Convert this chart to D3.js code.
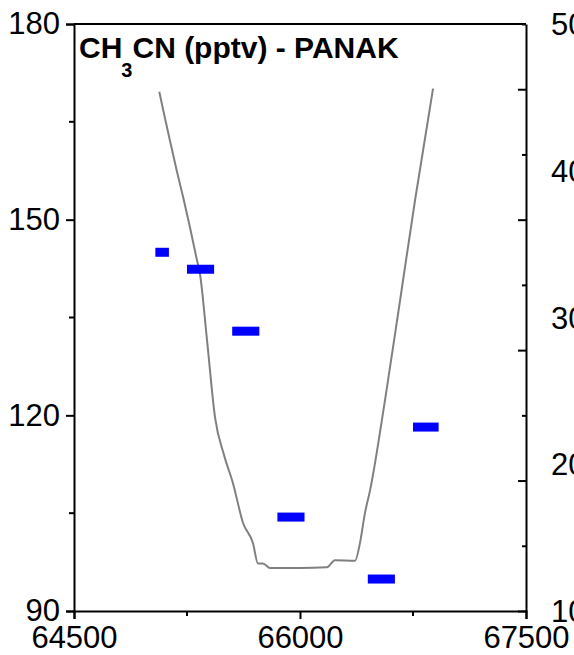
<html>
  <head>
    <meta charset="utf-8">
    <title>CH3CN - PANAK</title>
    <style>
      body { margin: 0; background: #fff; }
      text { font-family: Arial, "Liberation Sans", sans-serif; }
    </style>
  </head>
  <body>
    <script src="https://cdn.jsdelivr.net/npm/d3@7"></script>
    <script>
      var width = 574, height = 655;
      var margin = {top: 24, right: 48, bottom: 44, left: 74};

      // CH3CN averages (bars: start / end time, value in pptv)
      var barStart = [65040, 65250, 65550, 65850, 66450, 66750];
      var barEnd   = [65130, 65430, 65730, 66030, 66630, 66920];
      var ch3cn    = [145.0, 142.4, 132.9, 104.4, 94.9, 118.2];

      // gray flight track (in left-axis units)
      var lineTime  = [65066, 65093, 65137, 65182, 65225, 65270, 65314, 65336, 65383, 65436, 65496, 65555, 65622, 65688, 65721, 65754, 65801, 65867, 66000, 66179, 66232, 66365, 66398, 66431, 66465, 66564, 66664, 66763, 66883];
      var lineValue = [169.6, 166.7, 162.1, 157.5, 153.4, 148.8, 144.0, 141.7, 131.5, 119.7, 113.9, 109.6, 103.5, 100.4, 97.3, 97.3, 96.6, 96.6, 96.6, 96.7, 97.8, 97.7, 100.4, 105.0, 108.5, 122.3, 137.6, 152.9, 170.1];

      var xTicks = [64500, 66000, 67500];
      var xMinor = [65250, 66750];
      var yTicks = [90, 120, 150, 180];
      var yMinor = [105, 135, 165];
      var rightTicks = [90, 100, 110, 120, 130, 140, 150, 160, 170, 180];
      var rightLabels = [100, 200, 300, 400, 500];

      var svg = d3.select("body").append("svg")
                  .attr("width", width)
                  .attr("height", height);

      var x = d3.scaleLinear().domain([64500, 67500]).range([margin.left, width - margin.right]);
      var y = d3.scaleLinear().domain([90, 180]).range([height - margin.bottom, margin.top]);
      var y2 = d3.scaleLinear().domain([100, 500]).range([height - margin.bottom, margin.top]);

      // top border
      svg.append("line")
         .attr("x1", x(64500)).attr("x2", x(67500))
         .attr("y1", y(180)).attr("y2", y(180))
         .attr("stroke", "#000").attr("stroke-width", 2);

      // left axis
      var gl = svg.append("g").attr("transform", "translate(" + margin.left + ",0)");
      gl.call(d3.axisLeft(y).tickValues(yTicks).tickSize(8).tickPadding(6).tickFormat(d3.format("d")));
      yMinor.forEach(function(v){
        gl.append("line").attr("x1", -5).attr("x2", 0).attr("y1", y(v)).attr("y2", y(v))
          .attr("stroke", "#000").attr("stroke-width", 2);
      });

      // bottom axis
      var gb = svg.append("g").attr("transform", "translate(0," + (height - margin.bottom) + ")");
      gb.call(d3.axisBottom(x).tickValues(xTicks).tickSize(8).tickPadding(7).tickFormat(d3.format("d")));
      xMinor.forEach(function(v){
        gb.append("line").attr("x1", x(v)).attr("x2", x(v)).attr("y1", 0).attr("y2", 5)
          .attr("stroke", "#000").attr("stroke-width", 2);
      });

      // right axis: inward ticks, alternating lengths
      var gr = svg.append("g").attr("transform", "translate(" + (width - margin.right) + ",0)");
      gr.call(d3.axisLeft(y).tickValues(rightTicks).tickSize(0).tickFormat(""));
      gr.selectAll(".tick line")
        .attr("x2", (d, i) => i % 2 == 0 ? -8 : -4);

      // cut-off labels of the neighbouring panel
      svg.selectAll(".rlab")
         .data(rightLabels)
         .enter()
         .append("text")
         .attr("class", "rlab")
         .attr("x", 551)
         .attr("y", d => y2(d))
         .attr("dy", "0.36em")
         .attr("font-size", 31)
         .text(d => d);

      svg.selectAll(".domain").attr("stroke", "#000").attr("stroke-width", 2);
      svg.selectAll(".tick line").attr("stroke", "#000").attr("stroke-width", 2);
      svg.selectAll(".tick text").attr("font-size", 31).attr("fill", "#000")
         .attr("font-family", "Arial, 'Liberation Sans', sans-serif");

      // gray line
      var line = d3.line().curve(d3.curveMonotoneX).x((d, i) => x(lineTime[i])).y(d => y(d));
      svg.append("path")
         .attr("d", line(lineValue))
         .attr("fill", "none")
         .attr("stroke", "#808080")
         .attr("stroke-width", 2);

      // blue bars
      svg.selectAll(".bar")
         .data(ch3cn)
         .enter()
         .append("rect")
         .attr("class", "bar")
         .attr("x", (d, i) => x(barStart[i]))
         .attr("width", (d, i) => x(barEnd[i]) - x(barStart[i]))
         .attr("y", d => y(d) - 4.5)
         .attr("height", 9)
         .attr("fill", "#0000ff");

      // title
      var t = svg.append("text")
                 .attr("x", 79)
                 .attr("y", 58)
                 .attr("font-size", 30)
                 .attr("font-weight", "bold");
      t.append("tspan").text("CH");
      t.append("tspan").attr("font-size", 20).attr("dx", -1).attr("dy", 19).text("3");
      t.append("tspan").attr("dy", -19).text("CN (pptv) - PANAK");
    </script>
  </body>
</html>
